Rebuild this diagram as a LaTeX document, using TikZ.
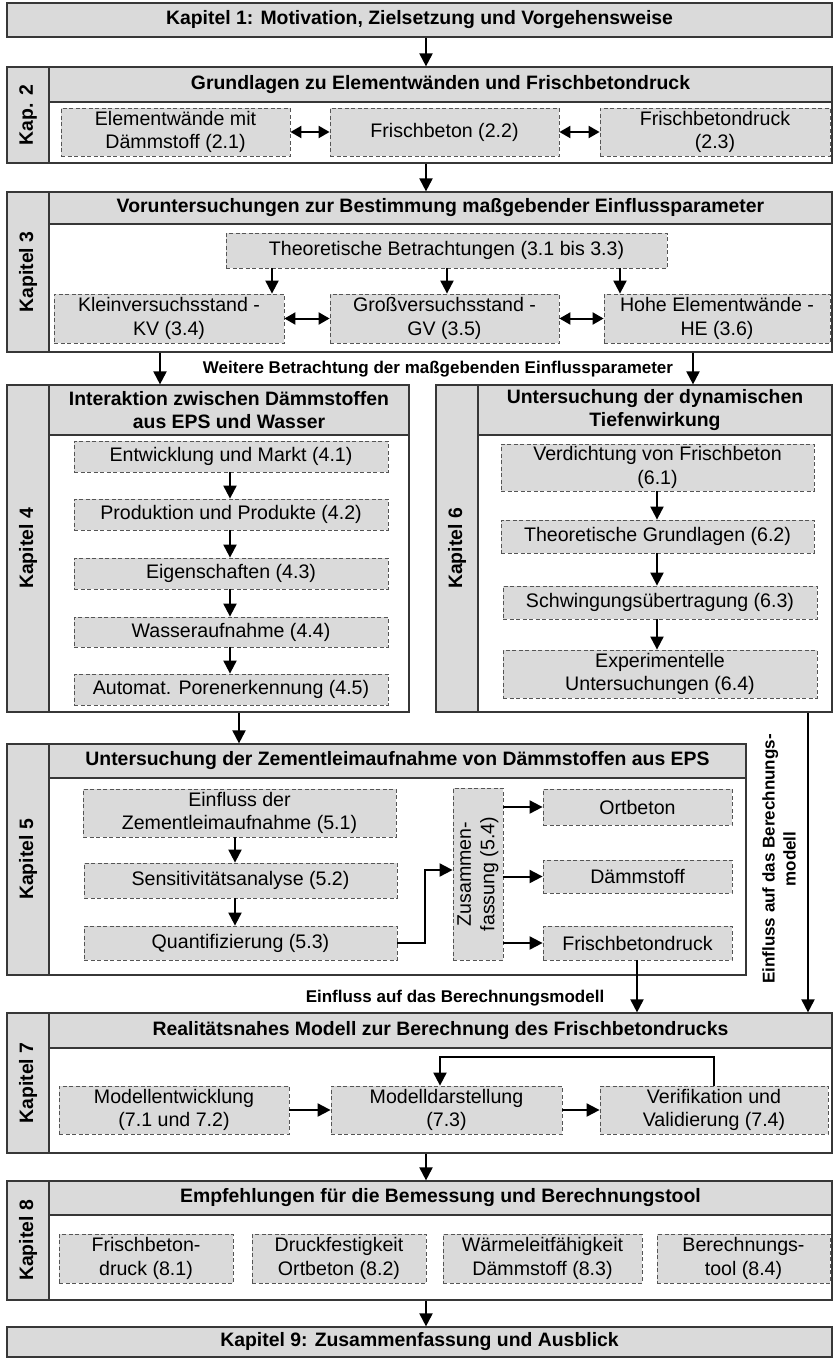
\documentclass[tikz,border=0pt]{standalone}
\usepackage{fontspec}
\setmainfont{Liberation Sans}
\usetikzlibrary{arrows.meta,calc}
\newcommand\bodyfnt{\fontsize{19.6}{23.5}\selectfont}
\newcommand\headfnt{\fontsize{19.4}{23}\selectfont\bfseries}
\newcommand\lblfnt{\fontsize{17}{21}\selectfont\bfseries}
\definecolor{boxgray}{RGB}{218,218,218}
\definecolor{framecol}{RGB}{55,55,55}
\definecolor{dashcol}{RGB}{85,85,85}
\begin{document}
\begin{tikzpicture}[x=1pt,y=-1pt,
  rc/.style n args={4}{rectangle, minimum width={(#3-#1)*1pt}, minimum height={(#4-#2)*1pt}, at={({(#1+#3)/2},{(#2+#4)/2})}},
  frame/.style={draw=framecol, line width=1.2pt, fill=white, inner sep=0pt},
  band/.style={draw=framecol, line width=1.2pt, fill=boxgray, inner sep=0pt, font=\headfnt, align=center},
  side/.style={draw=framecol, line width=1.2pt, fill=boxgray, inner sep=0pt},
  sidetxt/.style={rotate=90, font=\headfnt, inner sep=0pt},
  dbox/.style={draw=dashcol, line width=0.8pt, dash pattern=on 4pt off 2.5pt, fill=boxgray, inner sep=0pt, font=\bodyfnt, align=center},
  arr/.style={line width=2pt, -{Triangle[length=13pt,width=13pt]}},
  darr/.style={line width=2pt, {Triangle[length=11pt,width=12pt]}-{Triangle[length=11pt,width=12pt]}},
  lbl/.style={font=\lblfnt, inner sep=0pt, align=center}
]
\fill[white] (0,0) rectangle (833,1358);
\useasboundingbox (0,0) rectangle (833,1358);

% ---------- Kapitel 1
\node[band, rc={7}{3}{832}{37}] (k1) {Kapitel 1: Motivation, Zielsetzung und Vorgehensweise};

% ---------- Kapitel 2
\node[frame, rc={7}{67}{832}{163}] (k2) {};
\node[side, rc={7}{67}{49}{163}] (k2s) {};
\node[sidetxt] at (k2s.center) {Kap. 2};
\node[band, rc={49}{67}{832}{102}] (k2h) {Grundlagen zu Elementwänden und Frischbetondruck};
\node[dbox, rc={61}{108}{290}{156}] (n21) {Elementwände mit\\Dämmstoff (2.1)};
\node[dbox, rc={330}{108}{559}{156}] (n22) {Frischbeton (2.2)};
\node[dbox, rc={600}{108}{830}{156}] (n23) {Frischbetondruck\\(2.3)};
\draw[darr] (n21.east) -- (n22.west);
\draw[darr] (n22.east) -- (n23.west);

% ---------- Kapitel 3
\node[frame, rc={7}{192}{832}{352}] (k3) {};
\node[side, rc={7}{192}{49}{352}] (k3s) {};
\node[sidetxt] at (k3s.center) {Kapitel 3};
\node[band, rc={49}{192}{832}{224}] (k3h) {Voruntersuchungen zur Bestimmung maßgebender Einflussparameter};
\node[dbox, rc={226}{233}{667}{268}] (n3t) {Theoretische Betrachtungen (3.1 bis 3.3)};
\node[dbox, rc={54}{294}{284}{343}] (n34) {Kleinversuchsstand -\\KV (3.4)};
\node[dbox, rc={330}{294}{559}{343}] (n35) {Großversuchsstand -\\GV (3.5)};
\node[dbox, rc={604}{294}{830}{343}] (n36) {Hohe Elementwände -\\HE (3.6)};
\coordinate (c3a) at (272,0);
\coordinate (c3b) at (447,0);
\coordinate (c3c) at (620,0);
\draw[arr] (n3t.south -| c3a) -- (n34.north -| c3a);
\draw[arr] (n3t.south -| c3b) -- (n35.north -| c3b);
\draw[arr] (n3t.south -| c3c) -- (n36.north -| c3c);
\draw[darr] (n34.east) -- (n35.west);
\draw[darr] (n35.east) -- (n36.west);

% ---------- Kapitel 4
\node[frame, rc={7}{385}{409}{712}] (k4) {};
\node[side, rc={7}{385}{49}{712}] (k4s) {};
\node[sidetxt] at (k4s.center) {Kapitel 4};
\node[band, rc={49}{385}{409}{435}] (k4h) {Interaktion zwischen Dämmstoffen\\aus EPS und Wasser};
\node[dbox, rc={74}{441}{388}{472}] (n41) {Entwicklung und Markt (4.1)};
\node[dbox, rc={74}{499}{388}{530}] (n42) {Produktion und Produkte (4.2)};
\node[dbox, rc={74}{558}{388}{589}] (n43) {Eigenschaften (4.3)};
\node[dbox, rc={74}{617}{388}{647}] (n44) {Wasseraufnahme (4.4)};
\node[dbox, rc={74}{674}{388}{705}] (n45) {Automat. Porenerkennung (4.5)};
\coordinate (c4) at (230,0);
\draw[arr] (n41.south -| c4) -- (n42.north -| c4);
\draw[arr] (n42.south -| c4) -- (n43.north -| c4);
\draw[arr] (n43.south -| c4) -- (n44.north -| c4);
\draw[arr] (n44.south -| c4) -- (n45.north -| c4);

% ---------- Kapitel 6
\node[frame, rc={436}{385}{832}{712}] (k6) {};
\node[side, rc={436}{385}{478}{712}] (k6s) {};
\node[sidetxt] at (k6s.center) {Kapitel 6};
\node[band, rc={478}{385}{832}{435}] (k6h) {Untersuchung der dynamischen\\Tiefenwirkung};
\node[dbox, rc={501}{444}{814}{491}] (n61) {Verdichtung von Frischbeton\\(6.1)};
\node[dbox, rc={501}{520}{814}{553}] (n62) {Theoretische Grundlagen (6.2)};
\node[dbox, rc={503}{586}{817}{619}] (n63) {Schwingungsübertragung (6.3)};
\node[dbox, rc={503}{650}{817}{698}] (n64) {Experimentelle\\Untersuchungen (6.4)};
\coordinate (c6) at (657,0);
\draw[arr] (n61.south -| c6) -- (n62.north -| c6);
\draw[arr] (n62.south -| c6) -- (n63.north -| c6);
\draw[arr] (n63.south -| c6) -- (n64.north -| c6);

% ---------- links 3 -> 4 / 6
\coordinate (c34) at (160,0);
\coordinate (c36) at (693,0);
\draw[arr] (k3.south -| c34) -- (k4.north -| c34);
\draw[arr] (k3.south -| c36) -- (k6.north -| c36);
\node[lbl] (lw) at (438,369) {Weitere Betrachtung der maßgebenden Einflussparameter};

% ---------- Kapitel 5
\node[frame, rc={7}{744}{746}{975}] (k5) {};
\node[side, rc={7}{744}{49}{975}] (k5s) {};
\node[sidetxt] at (k5s.center) {Kapitel 5};
\node[band, rc={49}{744}{746}{778}] (k5h) {Untersuchung der Zementleimaufnahme von Dämmstoffen aus EPS};
\node[dbox, rc={83}{789}{396}{837}] (n51) {Einfluss der\\Zementleimaufnahme (5.1)};
\node[dbox, rc={84}{863}{397}{898}] (n52) {Sensitivitätsanalyse (5.2)};
\node[dbox, rc={84}{926}{397}{960}] (n53) {Quantifizierung (5.3)};
\node[dbox, rc={453}{788}{503}{960}] (n54) {};
\node[rotate=90, font=\bodyfnt, align=center, inner sep=0pt] at (n54.center) {Zusammen-\\fassung (5.4)};
\node[dbox, rc={543}{789}{732}{825}] (n5o) {Ortbeton};
\node[dbox, rc={543}{860}{732}{893}] (n5d) {Dämmstoff};
\node[dbox, rc={543}{926}{732}{960}] (n5f) {Frischbetondruck};
\coordinate (c5) at (235,0);
\draw[arr] (n51.south -| c5) -- (n52.north -| c5);
\draw[arr] (n52.south -| c5) -- (n53.north -| c5);
\coordinate (q1) at (425,943);
\coordinate (q2) at (425,870);
\draw[arr] (n53.east |- q1) -- (q1) -- (q2) -- (n54.west |- q2);
\draw[arr] (n54.east |- n5o.west) -- (n5o.west);
\draw[arr] (n54.east |- n5d.west) -- (n5d.west);
\draw[arr] (n54.east |- n5f.west) -- (n5f.west);

% ---------- link 4 -> 5
\coordinate (c45) at (239,0);
\draw[arr] (k4.south -| c45) -- (k5.north -| c45);

% ---------- Kapitel 7
\node[frame, rc={7}{1013}{832}{1153}] (k7) {};
\node[side, rc={7}{1013}{49}{1153}] (k7s) {};
\node[sidetxt] at (k7s.center) {Kapitel 7};
\node[band, rc={49}{1013}{832}{1048}] (k7h) {Realitätsnahes Modell zur Berechnung des Frischbetondrucks};
\node[dbox, rc={59}{1086}{289}{1134}] (n71) {Modellentwicklung\\(7.1 und 7.2)};
\node[dbox, rc={331}{1086}{562}{1134}] (n73) {Modelldarstellung\\(7.3)};
\node[dbox, rc={600}{1086}{828}{1134}] (n74) {Verifikation und\\Validierung (7.4)};
\draw[arr] (n71.east) -- (n73.west);
\draw[arr] (n73.east) -- (n74.west);
\coordinate (fb1) at (714,1057);
\coordinate (fb2) at (440,1057);
\draw[arr] (n74.north -| fb1) -- (fb1) -- (fb2) -- (n73.north -| fb2);

% ---------- links into Kapitel 7
\coordinate (c57) at (637,0);
\draw[arr] (n5f.south -| c57) -- (k7.north -| c57);
\node[lbl] (le) at (455,998) {Einfluss auf das Berechnungsmodell};
\coordinate (c67) at (808,0);
\draw[arr] (k6.south -| c67) -- (k7.north -| c67);
\node[lbl, rotate=90] (lr) at (779,859) {Einfluss auf das Berechnungs-\\modell};

% ---------- main column arrows and Kapitel 8
\coordinate (cm) at (426,0);
\draw[arr] (k1.south -| cm) -- (k2.north -| cm);
\draw[arr] (k2.south -| cm) -- (k3.north -| cm);
\node[frame, rc={7}{1181}{832}{1300}] (k8) {};
\node[side, rc={7}{1181}{49}{1300}] (k8s) {};
\node[sidetxt] at (k8s.center) {Kapitel 8};
\node[band, rc={49}{1181}{832}{1215}] (k8h) {Empfehlungen für die Bemessung und Berechnungstool};
\node[dbox, rc={59}{1234}{233}{1283}] (n81) {Frischbeton-\\druck (8.1)};
\node[dbox, rc={252}{1234}{426}{1283}] (n82) {Druckfestigkeit\\Ortbeton (8.2)};
\node[dbox, rc={443}{1234}{642}{1283}] (n83) {Wärmeleitfähigkeit\\Dämmstoff (8.3)};
\node[dbox, rc={657}{1234}{830}{1283}] (n84) {Berechnungs-\\tool (8.4)};
\draw[arr] (k7.south -| cm) -- (k8.north -| cm);

% ---------- Kapitel 9
\node[band, rc={7}{1327}{832}{1357}] (k9) {Kapitel 9: Zusammenfassung und Ausblick};
\draw[arr] (k8.south -| cm) -- (k9.north -| cm);
\end{tikzpicture}
\end{document}
